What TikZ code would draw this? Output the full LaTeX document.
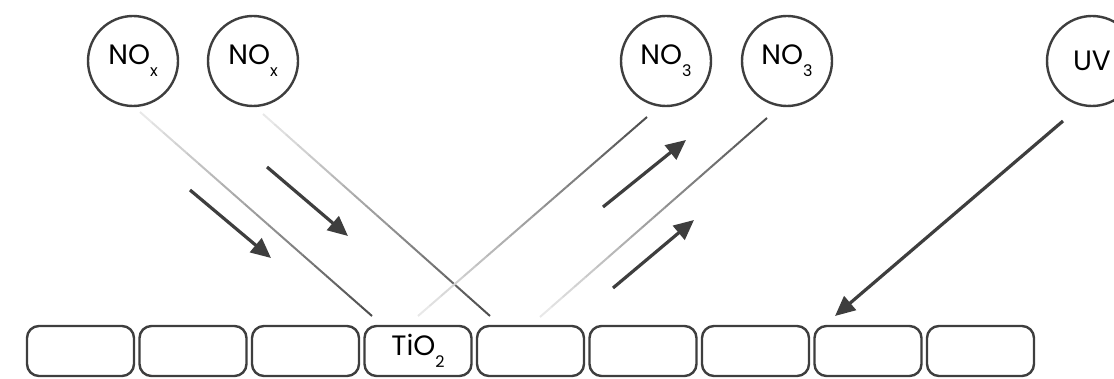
\documentclass[tikz,border=0pt]{standalone}
\usepackage{fontspec}
\setmainfont{Poppins}
\usetikzlibrary{positioning, arrows.meta, calc}
\definecolor{INKdark}{RGB}{62, 62, 62}
\tikzset{
  mol/.style={circle, draw=INKdark, line width=1.2pt, fill=white,
    minimum size=45pt, inner sep=0pt, font=\fontsize{14}{16}\selectfont},
  cell/.style={rectangle, rounded corners=6pt, draw=INKdark, line width=1.2pt,
    minimum width=53.5pt, minimum height=25pt, inner sep=0pt, outer sep=0pt,
    font=\fontsize{14}{16}\selectfont},
  flow/.style={-{Triangle[length=10pt, width=9pt]}, line width=1.6pt, INKdark},
}
\newcommand{\chemsub}[1]{\raisebox{-6pt}{\fontsize{8}{8}\selectfont #1}}
% thin ray that darkens from #1 to #2
\newcommand{\fadeline}[2]{%
  \foreach \k [evaluate=\k as \pa using \k/20, evaluate=\k as \pb using (\k+1)/20,
      evaluate=\k as \tone using int(12+4.2*\k)] in {0,...,19}
    \draw[line width=1pt, INKdark!\tone] ($(#1)!\pa!(#2)$) -- ($(#1)!\pb!(#2)$);}

\begin{document}
\begin{tikzpicture}[x=0.5pt, y=-0.5pt]
    \useasboundingbox (0,0) rectangle (1114,379);
    % molecules
    \node[mol] (nox1) at (133,61) {NO\chemsub{x}};
    \node[mol] (nox2) at (253,61) {NO\chemsub{x}};
    \node[mol] (no31) at (666,61) {NO\chemsub{3}};
    \node[mol] (no32) at (787,61) {NO\chemsub{3}};
    \node[mol] (uv) at (1092,61) {UV};
    % surface
    \node[cell] (c1) at (80.5,351) {};
    \node[cell, right=2.75pt of c1] (c2) {};
    \node[cell, right=2.75pt of c2] (c3) {};
    \node[cell, right=2.75pt of c3] (c4) {TiO\chemsub{2}};
    \node[cell, right=2.75pt of c4] (c5) {};
    \node[cell, right=2.75pt of c5] (c6) {};
    \node[cell, right=2.75pt of c6] (c7) {};
    \node[cell, right=2.75pt of c7] (c8) {};
    \node[cell, right=2.75pt of c8] (c9) {};
    % rays
    \coordinate (a1) at (140,112); \coordinate (a2) at (372,316);
    \coordinate (b1) at (263,114); \coordinate (b2) at (490,316);
    \coordinate (r1) at (418,316); \coordinate (r2) at (647,117);
    \coordinate (d1) at (540,317); \coordinate (d2) at (767,118);
    \coordinate (u1) at (1063,121); \coordinate (u2) at (835,316);
    \fadeline{a1}{a2}\fadeline{b1}{b2}\fadeline{r1}{r2}\fadeline{d1}{d2}
    \draw[flow] (u1) -- (u2);
    % direction arrows
    \coordinate (s1) at (190,190); \coordinate (t1) at (271,258);
    \coordinate (s2) at (267,167); \coordinate (t2) at (348,236);
    \coordinate (s3) at (603,207); \coordinate (t3) at (686,140);
    \coordinate (s4) at (613,288); \coordinate (t4) at (694,220);
    \draw[flow] (s1)--(t1);\draw[flow] (s2)--(t2);\draw[flow] (s3)--(t3);\draw[flow] (s4)--(t4);
  \end{tikzpicture}
\end{document}
